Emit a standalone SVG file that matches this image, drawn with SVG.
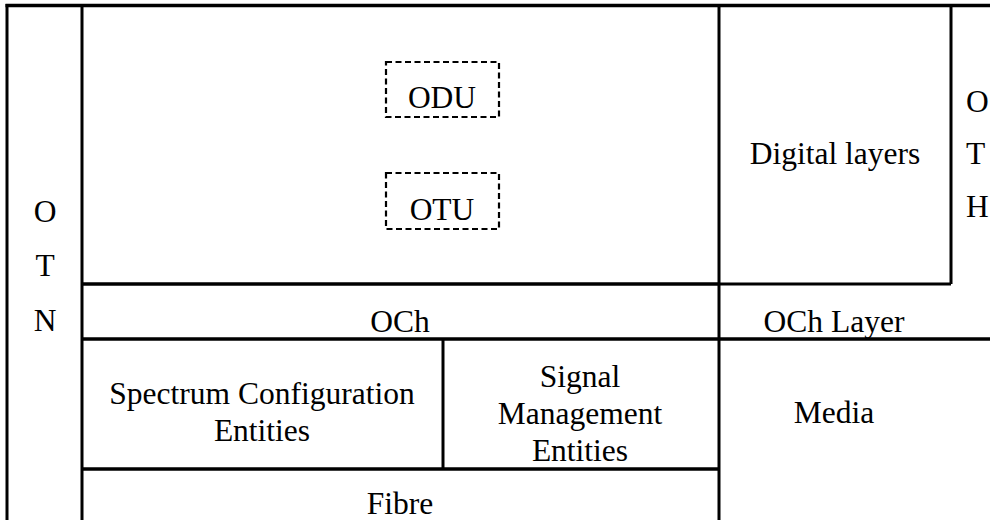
<svg xmlns="http://www.w3.org/2000/svg" width="990" height="520" viewBox="0 0 990 520" font-family="'Liberation Serif', 'Times New Roman', Times, serif">
<style>
text { font-size: 31.5px; fill: #000; text-anchor: middle; }
.h { stroke: #000; stroke-width: 3.5; fill: none; }
.v { stroke: #000; stroke-width: 3; fill: none; }
.dash { stroke: #000; stroke-width: 2.2; fill: none; stroke-dasharray: 6 3.5; }
</style>
<rect width="990" height="520" fill="#fff"/>
<g id="grid">
<line class="h" x1="5.5" y1="5.5" x2="990" y2="5.5"/>
<line class="v" x1="7" y1="4" x2="7" y2="520"/>
<line class="v" x1="82" y1="5" x2="82" y2="520"/>
<line class="v" x1="719" y1="5" x2="719" y2="520"/>
<line class="v" x1="951" y1="5" x2="951" y2="284"/>
<line class="h" x1="82" y1="284" x2="719" y2="284"/>
<line class="v" x1="719" y1="284" x2="951" y2="284"/>
<line class="h" x1="82" y1="339" x2="990" y2="339"/>
<line class="v" x1="443" y1="339" x2="443" y2="469"/>
<line class="h" x1="82" y1="469" x2="719" y2="469"/>
</g>
<g id="otn">
<text x="45" y="222">O</text>
<text x="45" y="276">T</text>
<text x="45" y="331">N</text>
</g>
<g id="odu">
<rect class="dash" x="386" y="62" width="113" height="55"/>
<text x="442" y="108">ODU</text>
</g>
<g id="otu">
<rect class="dash" x="386" y="173" width="113" height="56"/>
<text x="442" y="220">OTU</text>
</g>
<g id="digital-layers">
<text x="835" y="164">Digital layers</text>
</g>
<g id="oth">
<text x="966" y="112" style="text-anchor:start">O</text>
<text x="966" y="164" style="text-anchor:start">T</text>
<text x="966" y="217" style="text-anchor:start">H</text>
</g>
<g id="och">
<text x="400" y="332">OCh</text>
</g>
<g id="och-layer">
<text x="834" y="332">OCh Layer</text>
</g>
<g id="spectrum">
<text x="262" y="404">Spectrum Configuration</text>
<text x="262" y="441">Entities</text>
</g>
<g id="signal">
<text x="580" y="387">Signal</text>
<text x="580" y="424">Management</text>
<text x="580" y="461">Entities</text>
</g>
<g id="media">
<text x="834" y="423">Media</text>
</g>
<g id="fibre">
<text x="400" y="514">Fibre</text>
</g>
</svg>
